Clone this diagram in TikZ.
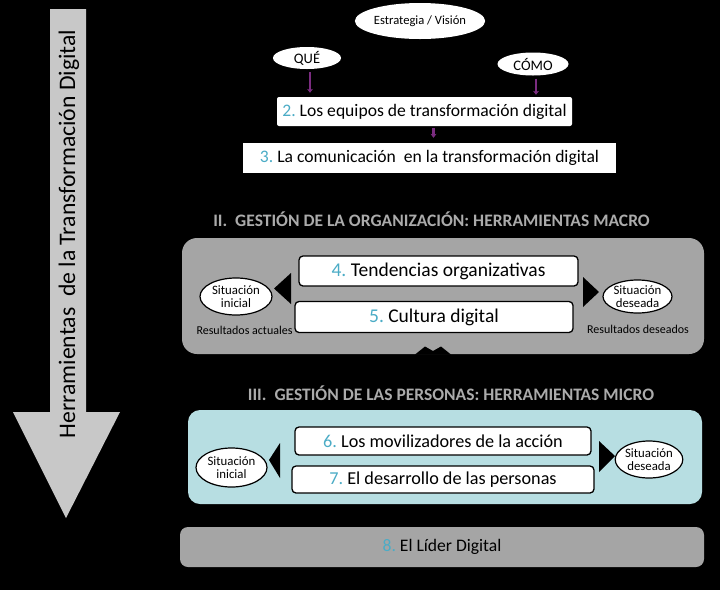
\documentclass[tikz,border=0pt]{standalone}
\usepackage{fontspec}
\setmainfont{Carlito}
\usetikzlibrary{shapes.geometric,arrows.meta}
\definecolor{numblue}{HTML}{4BACC6}
\definecolor{panelgray}{HTML}{A5A5A5}
\definecolor{panelblue}{HTML}{B7DEE2}
\definecolor{arrowgray}{HTML}{C8C8C8}
\definecolor{headgray}{HTML}{ABABAB}
\definecolor{purp}{HTML}{7B2C80}
\newcommand{\nb}[1]{\textcolor{numblue}{#1}\ }
\begin{document}
\begin{tikzpicture}[x=1pt,y=-1pt,
  ell/.style={ellipse,fill=white,inner sep=0pt,align=center,font=\fontsize{12.6}{13.5}\selectfont},
  oell/.style={ell,draw=black,line width=1.2pt,font=\fontsize{12.8}{13.5}\selectfont},
  wbox/.style={rectangle,fill=white,inner sep=0pt,font=\fontsize{17.6}{19}\selectfont},
  obox/.style={wbox,draw=black,line width=1.3pt,rounded corners=4pt},
  panel/.style={rectangle,inner sep=0pt},
  head/.style={font=\bfseries\fontsize{17.5}{19}\selectfont,text=headgray,inner sep=0pt},
  small/.style={font=\fontsize{12}{13}\selectfont,inner sep=0pt},
  parrow/.style={draw=purp,line width=2.6pt,-{Stealth[length=4pt,width=6pt]}},
  tri/.style={fill=black}]
\useasboundingbox[fill=black] (0,0) rectangle (720,590);

% big arrow
\fill[arrowgray] (50,9) -- (86,9) -- (86,412) -- (120,412) -- (66,518) -- (13,412) -- (50,412) -- cycle;
\node[rotate=90,font=\fontsize{23.7}{25}\selectfont,inner sep=0pt] (arrtxt) at (69,234) {Herramientas\ \ de la Transformación Digital};

% top part
\node[ell,minimum width=125pt,minimum height=36pt] (vision) at (420,21) {Estrategia / Visión};
\node[ell,minimum width=68pt,minimum height=22pt,font=\fontsize{14.5}{15}\selectfont] (que) at (307,58) {QUÉ};
\node[ell,minimum width=71pt,minimum height=23pt,font=\fontsize{14.5}{15}\selectfont] (como) at (533,64) {CÓMO};
\node[wbox,rounded corners=2pt,minimum width=295pt,minimum height=29pt] (b2) at (424.5,111.5) {\nb{2.}Los equipos de transformación digital};
\node[wbox,minimum width=373pt,minimum height=30pt] (b3) at (429.5,158) {\nb{3.}La comunicación\ \ en la transformación digital};
\draw[parrow,shorten <=3pt,shorten >=4pt] ([xshift=3pt]que.south) -- ([xshift=3pt]que.south |- b2.north);
\draw[parrow,shorten <=3pt,shorten >=2pt] ([xshift=3pt]como.south) -- ([xshift=3pt]como.south |- b2.north);
\draw[parrow,shorten <=2pt,shorten >=5pt] ([xshift=9pt]b2.south) -- ([xshift=9pt]b2.south |- b3.north);

% section II
\node[head] (h2) at (431.5,219) {II.\ \ GESTIÓN DE LA ORGANIZACIÓN: HERRAMIENTAS MACRO};
\node[panel,fill=panelgray,rounded corners=15pt,minimum width=522pt,minimum height=116pt] (p2) at (443,296) {};
\fill[black] (415,354.5) -- (425,346.5) -- (433,351) -- (441,346.5) -- (451,354.5) -- cycle;
\node[obox,minimum width=279pt,minimum height=30pt,font=\fontsize{19.5}{21}\selectfont] (b4) at (438.5,271) {\nb{4.}Tendencias organizativas};
\node[obox,minimum width=278pt,minimum height=31pt,font=\fontsize{19.5}{21}\selectfont] (b5) at (434,317) {\nb{5.}Cultura digital};
\node[oell,minimum width=72pt,minimum height=37pt] (si1) at (236,296.5) {Situación\\inicial};
\node[oell,minimum width=69pt,minimum height=33pt] (sd1) at (637.5,296.5) {Situación\\deseada};
\node[small] (ra) at (244.5,330) {Resultados actuales};
\node[small] (rd) at (638,329) {Resultados deseados};
\fill[tri] (274,288.5) -- (291,273) -- (291,304) -- cycle;
\fill[tri] (599,292) -- (583,277) -- (583,307) -- cycle;

% section III
\node[head] (h3) at (451,393) {III.\ \ GESTIÓN DE LAS PERSONAS: HERRAMIENTAS MICRO};
\node[panel,fill=panelblue,rounded corners=12pt,minimum width=514pt,minimum height=94pt] (p3) at (445,457) {};
\node[obox,minimum width=296pt,minimum height=28pt,font=\fontsize{18.2}{20}\selectfont] (b6) at (443,441) {\nb{6.}Los movilizadores de la acción};
\node[obox,minimum width=302pt,minimum height=27pt,font=\fontsize{18.2}{20}\selectfont] (b7) at (443,479.5) {\nb{7.}El desarrollo de las personas};
\node[oell,minimum width=71pt,minimum height=39pt] (si2) at (231.5,467.5) {Situación\\inicial};
\node[oell,minimum width=64pt,minimum height=37pt] (sd2) at (649,459.5) {Situación\\deseada};
\fill[tri] (269,460) -- (280,443) -- (280,478) -- cycle;
\fill[tri] (615,456) -- (599,441) -- (599,472) -- cycle;

% 8
\node[panel,fill=panelgray,rounded corners=8pt,minimum width=524pt,minimum height=40pt,font=\fontsize{17.6}{19}\selectfont] (b8) at (442,547) {\nb{8.}El Líder Digital};
\end{tikzpicture}
\end{document}
